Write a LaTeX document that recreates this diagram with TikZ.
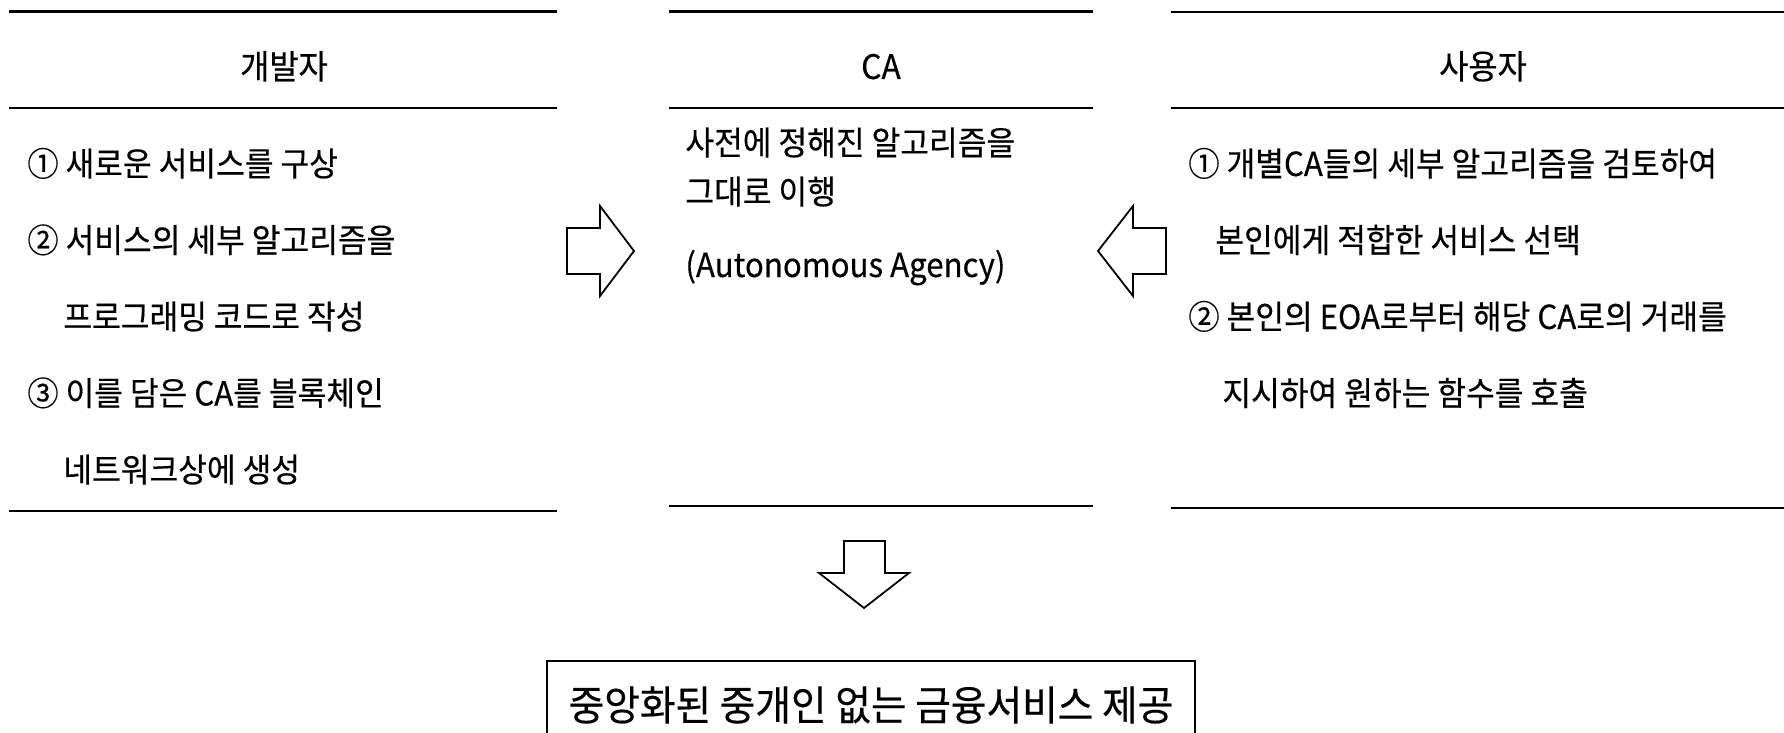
\documentclass[tikz,border=0pt]{standalone}
\usepackage{fontspec}
\setmainfont{Noto Sans CJK KR}[FakeBold=0.4, FakeStretch=0.94]

\begin{document}
\begin{tikzpicture}[x=0.5pt, y=-0.5pt,
  rule/.style={line width=1.2pt},
  head/.style={anchor=base, inner sep=0pt, font=\fontsize{16.9}{20}\selectfont},
  item/.style={anchor=base west, inner sep=0pt, font=\fontsize{16.6}{20}\selectfont},
  bigarrow/.style={draw, line width=0.9pt, fill=white, line join=miter}]

  \useasboundingbox (0,0) rectangle (1784,733);
  \clip (0,0) rectangle (1784,733);

  \newcommand\rowH{76.5}
  \newcommand\parH{49}

  %% rules of the three columns
  \foreach \y in {11.5,108,511} \draw[rule] (9,\y) -- (557,\y);
  \foreach \y in {11.5,108,506} \draw[rule] (669,\y) -- (1093,\y);
  \foreach \y in {12,108,508} \draw[rule] (1171,\y) -- (1800,\y);

  \node[head] (dev) at (284,79) {개발자};
  \node[head] (ca) at (881,79) {CA};
  \node[head] (user) at (1483,79) {사용자};

  %% 개발자
  \node[item] (dev1) at (27,176) {① 새로운 서비스를 구상};
  \node[item] (dev2) at (27,176+\rowH) {② 서비스의 세부 알고리즘을};
  \node[item] (dev3) at (63,176+2*\rowH) {프로그래밍 코드로 작성};
  \node[item] (dev4) at (27,176+3*\rowH) {③ 이를 담은 CA를 블록체인};
  \node[item] (dev5) at (63,176+4*\rowH) {네트워크상에 생성};

  %% CA
  \node[item] (ca1) at (685,155) {사전에 정해진 알고리즘을};
  \node[item] (ca2) at (685,155+\parH) {그대로 이행};
  \node[item] (ca3) at (685,277) {(Autonomous Agency)};

  %% 사용자
  \node[item] (user1) at (1188,176) {① 개별CA들의 세부 알고리즘을 검토하여};
  \node[item] (user2) at (1215,176+\rowH) {본인에게 적합한 서비스 선택};
  \node[item] (user3) at (1188,176+2*\rowH) {② 본인의 EOA로부터 해당 CA로의 거래를};
  \node[item] (user4) at (1222,176+3*\rowH) {지시하여 원하는 함수를 호출};

  \node[draw, line width=1pt, inner sep=0pt, minimum width=324pt, minimum height=44pt,
    font=\fontsize{20.6}{24}\selectfont] (result) at (871,705) {중앙화된 중개인 없는 금융서비스 제공};

  %% block arrows
  \coordinate (devout) at (567,251);
  \coordinate (userout) at (1166,251);
  \coordinate (caout) at (844,541);

  \draw[bigarrow] (devout) ++(0,-23) -- ++(33,0) -- ++(0,-22) -- ++(34,45)
    -- ++(-34,45) -- ++(0,-22) -- ++(-33,0) -- cycle; %% dev -> CA
  \draw[bigarrow] (userout) ++(0,-23) -- ++(-33,0) -- ++(0,-22) -- ++(-35,45)
    -- ++(35,45) -- ++(0,-22) -- ++(33,0) -- cycle; %% user -> CA
  \draw[bigarrow] (caout) -- ++(41,0) -- ++(0,32) -- ++(24,0) -- ++(-45,35)
    -- ++(-45,-35) -- ++(25,0) -- cycle; %% CA -> result

\end{tikzpicture}
\end{document}
